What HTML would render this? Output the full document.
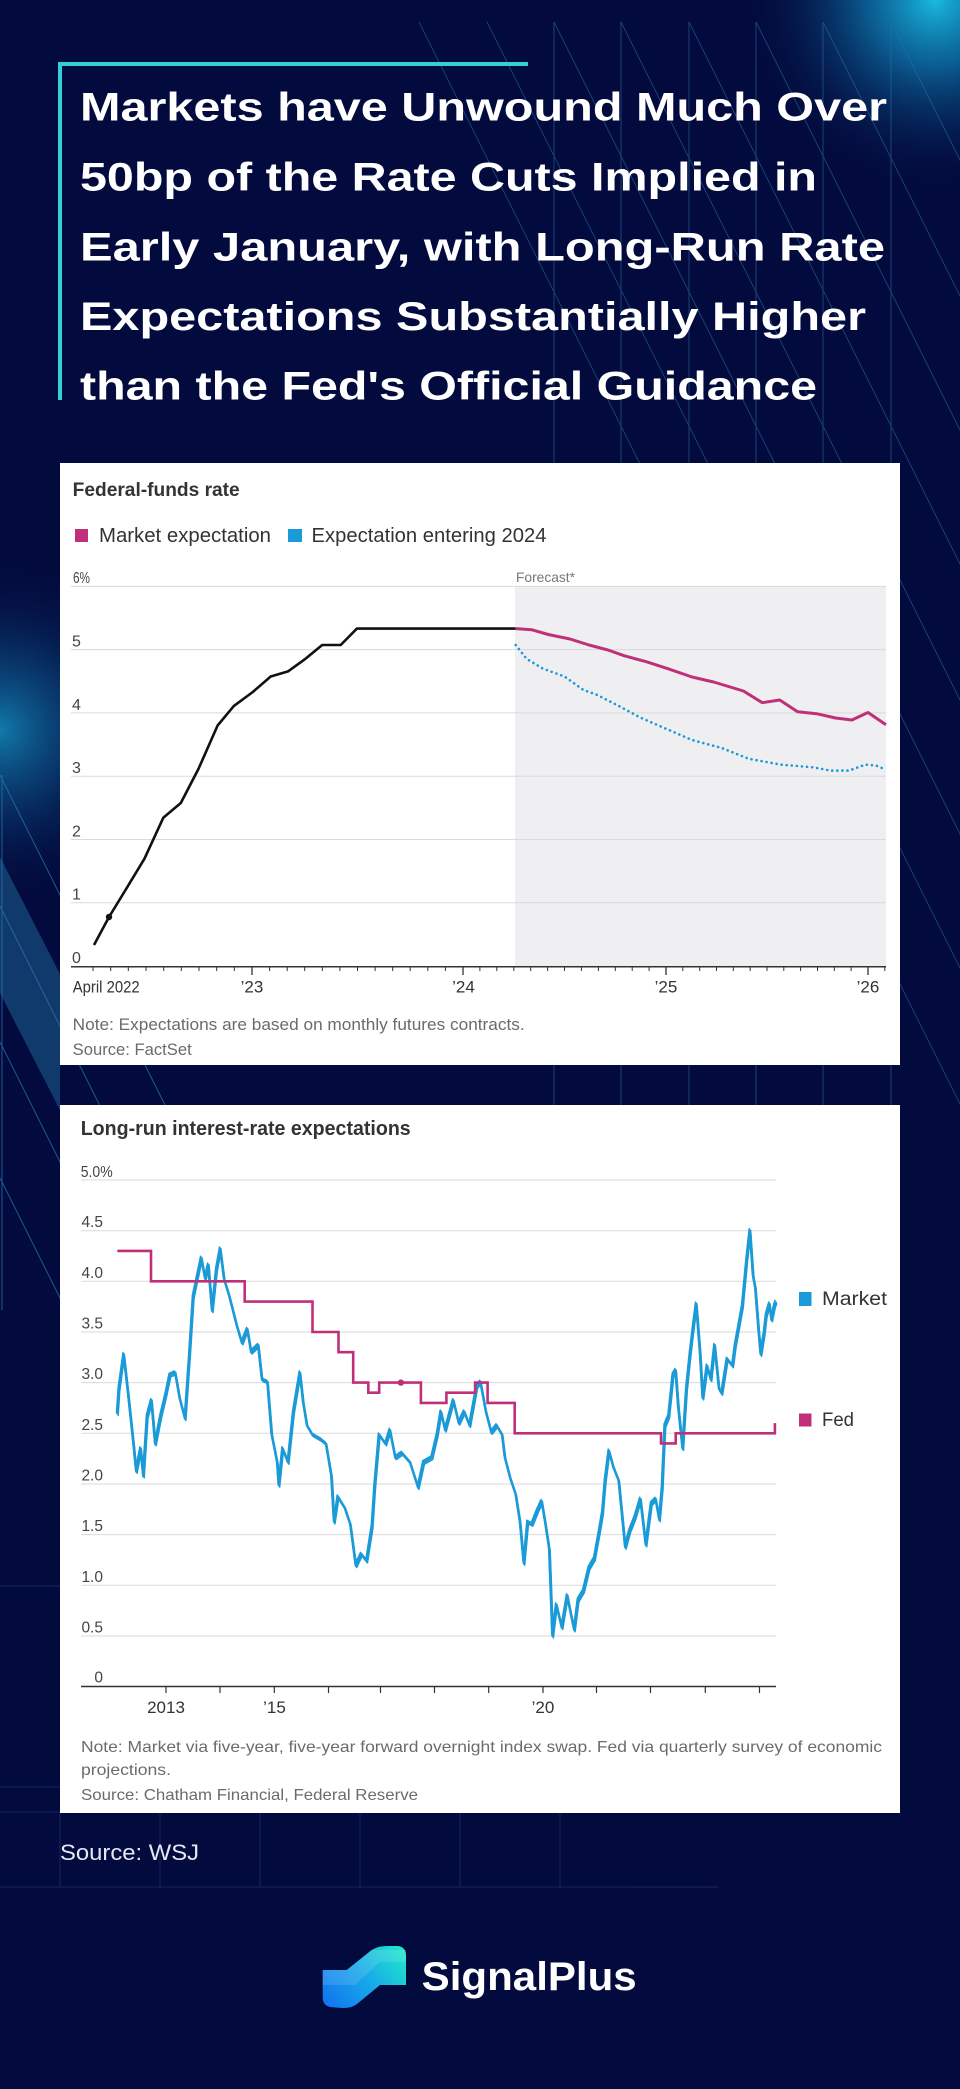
<!DOCTYPE html>
<html>
<head>
<meta charset="utf-8">
<style>
html,body{margin:0;padding:0;background:#030b3e;}
body{width:960px;height:2089px;overflow:hidden;}
svg{display:block;}
text{font-family:"Liberation Sans",Arial,sans-serif;}
</style>
</head>
<body>
<svg width="960" height="2089" viewBox="0 0 960 2089" xmlns="http://www.w3.org/2000/svg">
<defs>
<radialGradient id="gTR" cx="935" cy="0" r="190" gradientUnits="userSpaceOnUse">
<stop offset="0" stop-color="#19b9e0" stop-opacity="1"/>
<stop offset="0.35" stop-color="#0e7fb4" stop-opacity="0.7"/>
<stop offset="1" stop-color="#030b3e" stop-opacity="0"/>
</radialGradient>
<radialGradient id="gL" cx="0" cy="730" r="170" gradientUnits="userSpaceOnUse">
<stop offset="0" stop-color="#137fb0" stop-opacity="0.95"/>
<stop offset="0.45" stop-color="#0b4d82" stop-opacity="0.55"/>
<stop offset="1" stop-color="#030b3e" stop-opacity="0"/>
</radialGradient>
<linearGradient id="gLogo" x1="323" y1="2008" x2="406" y2="1946" gradientUnits="userSpaceOnUse">
<stop offset="0" stop-color="#1270f0"/>
<stop offset="0.5" stop-color="#17a8ea"/>
<stop offset="1" stop-color="#22ecc8"/>
</linearGradient>
<path id="mkt" d="M117.3 1414.1L119 1388.9L123.8 1354.4L128.2 1393.5L133.6 1444L136.3 1471.5L140.7 1448.6L143.4 1476.1L147.2 1416.4L151.5 1400.4L155.3 1444L160.7 1416.4L166.1 1393.5L169.9 1375.1L175.3 1372.8L179.7 1398.1L185.1 1418.7L189.4 1356.7L193.2 1297L197 1278.7L201.4 1258L205.2 1278.7L208.4 1264.9L212.2 1310.8L216.5 1269.5L220.3 1248.8L224.1 1278.7L229.6 1297L236.6 1324.6L242 1343L247.4 1329.2L251.2 1352.2L258.3 1345.3L262.1 1379.7L267.5 1382L271.8 1434.8L277.3 1462.4L278.9 1485.3L282.7 1448.6L288.1 1462.4L293.5 1411.8L300 1372.8L303.3 1402.7L307.1 1425.6L312.5 1434.8L320.6 1439.4L326.1 1444L331.5 1476.1L334.2 1522.1L338 1496.8L345 1508.3L350.4 1524.4L355.9 1565.7L361.3 1554.2L366.7 1561.1L372.1 1526.6L374.8 1485.3L379.2 1434.8L385.7 1444L390 1430.2L395.4 1457.8L402 1453.2L410.1 1462.4L418.2 1487.6L423.6 1462.4L431.8 1457.8L437.2 1434.8L441 1411.8L445.3 1430.2L453.4 1400.4L458.9 1423.3L464.3 1411.8L469.7 1425.6L476.8 1386.6L480.5 1382L486 1411.8L491.4 1432.5L496.8 1425.6L502.2 1434.8L505 1457.8L510.4 1478.4L515.8 1494.5L520.1 1522.1L523.9 1563.4L527.7 1522.1L532 1524.4L537.5 1510.6L541.8 1501.4L545.6 1524.4L549.4 1549.6L552.6 1636L556.4 1604.7L561.9 1627.7L567.3 1595.5L570 1609.3L574.3 1630L578.1 1600.1L583.5 1591L589 1568L594.4 1558.8L599.8 1528.9L602.5 1512.9L605.2 1480.7L609 1450.9L613.4 1467L618.8 1480.7L621.5 1508.3L625.3 1547.3L629.6 1531.2L635 1517.5L640.5 1499.1L645.9 1545L651.3 1503.7L655.7 1499.1L659.4 1519.8L662.2 1487.6L664.9 1425.6L668.7 1416.4L673 1375.1L675.7 1370.5L678.4 1407.3L682.7 1448.6L686.5 1388.9L690.3 1352.2L693.6 1324.6L696.3 1303.9L700.1 1352.2L702.8 1398.1L707.1 1365.9L710.9 1379.7L714.7 1345.3L719.1 1388.9L721.8 1393.5L727.2 1359L732.6 1365.9L735.3 1345.3L739.1 1324.6L742.4 1306.2L746.7 1260.3L750 1230.5L753.2 1276.4L755.4 1287.9L758.6 1329.2L760.8 1354.4L764.1 1333.8L766.2 1315.4L769.5 1303.9L771.6 1320L774.4 1306.2L776 1301.6"/>
</defs>

<rect x="0" y="0" width="960" height="2089" fill="#030b3e"/>
<rect x="0" y="0" width="960" height="300" fill="url(#gTR)"/>
<rect x="0" y="540" width="260" height="400" fill="url(#gL)"/>

<g stroke="#2a6fa3" stroke-width="1" opacity="0.55" fill="none">
<path d="M554 22V1105M621 22V1105M689 22V1105M756 22V1105M823 22V1105M891 22V1105"/>
<path d="M554 22L1100 1114M621 22L1100 980M689 22L1100 844M756 22L1100 710M823 22L1100 576M891 22L1100 440"/>
<path d="M487 22L1100 1248M419 22L1100 1384"/>
</g>

<polygon points="0,857 60,974 60,1110 0,993" fill="#1b5a8c" opacity="0.6"/>
<g stroke="#2a7ab0" stroke-width="1" opacity="0.7" fill="none">
<path d="M2 775V1310"/>
<path d="M0 775L200 1175M0 906L200 1306M0 1042L200 1442M0 1178L200 1578"/>
</g>
<g stroke="#1b2a68" stroke-width="1" fill="none" opacity="0.9">
<path d="M0 1586H60M0 1787H60M0 1812H60M0 1887H719"/>
<path d="M160 1813V1887M260 1813V1887M360 1813V1887M460 1813V1887M560 1813V1887M60 1813V1887"/>
</g>

<rect x="58" y="62" width="470" height="4" fill="#33cfd6"/>
<rect x="58" y="62" width="4" height="338" fill="#33cfd6"/>

<g fill="#ffffff" font-weight="bold" font-size="40">
<text x="80" y="120.7" textLength="807" lengthAdjust="spacingAndGlyphs">Markets have Unwound Much Over</text>
<text x="80" y="190.7" textLength="737" lengthAdjust="spacingAndGlyphs">50bp of the Rate Cuts Implied in</text>
<text x="80" y="260.3" textLength="805" lengthAdjust="spacingAndGlyphs">Early January, with Long-Run Rate</text>
<text x="80" y="330" textLength="786" lengthAdjust="spacingAndGlyphs">Expectations Substantially Higher</text>
<text x="80" y="399.3" textLength="737" lengthAdjust="spacingAndGlyphs">than the Fed's Official Guidance</text>
</g>

<!-- PANEL 1 -->
<rect x="60" y="463" width="840" height="602" fill="#ffffff"/>
<text x="72.7" y="496" font-size="19" font-weight="bold" fill="#333" textLength="167" lengthAdjust="spacingAndGlyphs">Federal-funds rate</text>
<rect x="75" y="529" width="13" height="13" fill="#c0307a"/>
<text x="99" y="542" font-size="20" fill="#333" textLength="172" lengthAdjust="spacingAndGlyphs">Market expectation</text>
<rect x="288" y="529" width="14" height="13" fill="#1a9ad6"/>
<text x="311.5" y="542" font-size="20" fill="#333" textLength="235" lengthAdjust="spacingAndGlyphs">Expectation entering 2024</text>

<rect x="515" y="586" width="371" height="380" fill="#efeff1"/>
<text x="516" y="582" font-size="14" fill="#777" textLength="59" lengthAdjust="spacingAndGlyphs">Forecast*</text>

<g stroke="#dadada" stroke-width="1">
<path d="M71 586.4H886M71 649.6H886M71 712.9H886M71 776.2H886M71 839.5H886M71 902.7H886"/>
</g>
<g font-size="16" fill="#444">
<text x="73" y="583" textLength="17" lengthAdjust="spacingAndGlyphs">6%</text>
<text x="72" y="646.6">5</text>
<text x="72" y="709.9">4</text>
<text x="72" y="773.2">3</text>
<text x="72" y="836.5">2</text>
<text x="72" y="899.7">1</text>
<text x="72" y="963">0</text>
</g>

<path d="M71 966.7H886" stroke="#333" stroke-width="1.5"/>
<path stroke="#333" stroke-width="1" d="M93 967v4M110.7 967v4M128.3 967v4M146 967v4M163.7 967v4M181.3 967v4M199 967v4M216.7 967v4M234.3 967v4M269.6 967v4M287.2 967v4M304.7 967v4M322.3 967v4M339.9 967v4M357.5 967v4M375.1 967v4M392.7 967v4M410.2 967v4M427.8 967v4M445.4 967v4M479.9 967v4M496.8 967v4M513.8 967v4M530.7 967v4M547.6 967v4M564.5 967v4M581.4 967v4M598.4 967v4M615.3 967v4M632.2 967v4M649.1 967v4M682.8 967v4M699.7 967v4M716.5 967v4M733.3 967v4M750.2 967v4M767 967v4M783.8 967v4M800.6 967v4M817.5 967v4M834.3 967v4M851.1 967v4M884.8 967v4"/>
<path stroke="#333" stroke-width="1.3" d="M252 967v8M463 967v8M666 967v8M868 967v8"/>

<path fill="none" stroke="#111" stroke-width="2.6" stroke-linejoin="round" d="M94 945L109 917L125.5 890L144.4 858.8L163.4 817.6L180.8 803L198.6 768.6L217.6 725.5L233.9 705.9L252.8 692L270.7 676.5L288 671.4L304.4 659.6L322.2 645L340.7 645L356.9 628.6L515.7 628.6"/>
<circle cx="109" cy="917" r="3.2" fill="#111"/>
<path fill="none" stroke="#c0307a" stroke-width="3" stroke-linejoin="round" d="M515.7 628.6L532 629.8L548.3 634.5L570 639L589 645L608 650L624 655.7L645.8 661.6L667.5 668.6L692 677L713.6 682L743.4 691L762.3 702.7L779.7 700L797.6 711.8L816.6 713.7L835.6 718L851.9 720L868 712.5L886 724.7"/>
<path fill="none" stroke="#1a9ad6" stroke-width="2.6" stroke-linecap="round" stroke-dasharray="0.1 5" d="M515.7 645L526.5 658.8L542.8 668.6L564.5 676.5L583.5 690L597 694.9L618.7 705.9L640.4 717.6L667.5 729.4L692 740L721.7 748L748.8 758.8L781.3 764.7L813.9 767.4L830 770.6L849 770.6L865.2 764.7L876 765.5L886 769.8"/>

<g font-size="17" fill="#333">
<text x="72.7" y="992.7" textLength="67" lengthAdjust="spacingAndGlyphs">April 2022</text>
<text x="252" y="992.7" text-anchor="middle">’23</text>
<text x="463.5" y="992.7" text-anchor="middle">’24</text>
<text x="666" y="992.7" text-anchor="middle">’25</text>
<text x="868" y="992.7" text-anchor="middle">’26</text>
</g>
<g font-size="16.5" fill="#6b6b6b">
<text x="72.7" y="1030" textLength="452" lengthAdjust="spacingAndGlyphs">Note: Expectations are based on monthly futures contracts.</text>
<text x="72.7" y="1055" textLength="119" lengthAdjust="spacingAndGlyphs">Source: FactSet</text>
</g>

<!-- PANEL 2 -->
<rect x="60" y="1105" width="840" height="708" fill="#ffffff"/>
<text x="80.7" y="1135" font-size="20" font-weight="bold" fill="#333" textLength="330" lengthAdjust="spacingAndGlyphs">Long-run interest-rate expectations</text>

<g stroke="#dadada" stroke-width="1">
<path d="M81 1180H776M81 1230.7H776M81 1281.3H776M81 1332H776M81 1382.6H776M81 1433.3H776M81 1484H776M81 1534.6H776M81 1585.3H776M81 1636H776"/>
</g>
<g font-size="15.5" fill="#444">
<text x="80.7" y="1177" textLength="32" lengthAdjust="spacingAndGlyphs">5.0%</text>
<g text-anchor="end">
<text x="103" y="1227">4.5</text>
<text x="103" y="1277.8">4.0</text>
<text x="103" y="1328.5">3.5</text>
<text x="103" y="1379.1">3.0</text>
<text x="103" y="1429.8">2.5</text>
<text x="103" y="1480.5">2.0</text>
<text x="103" y="1531.1">1.5</text>
<text x="103" y="1581.8">1.0</text>
<text x="103" y="1632.5">0.5</text>
<text x="103" y="1682.5">0</text>
</g>
</g>

<path d="M81 1686.5H776" stroke="#333" stroke-width="1.5"/>
<path stroke="#333" stroke-width="1.2" d="M166 1687v6M220 1687v6M274.3 1687v6M328.5 1687v6M380.5 1687v6M434.5 1687v6M488.7 1687v6M543 1687v6M596.5 1687v6M650.5 1687v6M705.3 1687v6M759.5 1687v6"/>

<g font-size="17" fill="#333" text-anchor="middle">
<text x="166" y="1713">2013</text>
<text x="274.5" y="1713">’15</text>
<text x="543" y="1713">’20</text>
</g>

<use href="#mkt" fill="none" stroke="#1a9ad6" stroke-width="1.5" stroke-linejoin="round" transform="translate(0.8,1.8)"/>
<use href="#mkt" fill="none" stroke="#1a9ad6" stroke-width="1.5" stroke-linejoin="round" transform="translate(-0.8,-1.8)"/>
<use href="#mkt" fill="none" stroke="#1a9ad6" stroke-width="2.6" stroke-linejoin="round"/>

<path fill="none" stroke="#c0307a" stroke-width="2.6" d="M117.3 1250.9H151V1281.3H244.7V1301.6H312.5V1332H338.5V1352.2H353.2V1382.6H368.3V1392.7H379.2V1382.6H420.9V1402.9H446.4V1392.7H475.1V1382.6H487.6V1402.9H514.7V1433.3H661V1443.4H675.7V1433.3H774.9V1423.1"/>
<circle cx="400.9" cy="1382.6" r="3.2" fill="#c0307a"/>

<rect x="799" y="1292" width="12.5" height="14" fill="#1a9ad6"/>
<text x="822" y="1305" font-size="19" fill="#333" textLength="65" lengthAdjust="spacingAndGlyphs">Market</text>
<rect x="799" y="1413.5" width="12.5" height="13" fill="#c0307a"/>
<text x="822" y="1426" font-size="19" fill="#333" textLength="32" lengthAdjust="spacingAndGlyphs">Fed</text>

<g font-size="16" fill="#6b6b6b">
<text x="81" y="1752" textLength="801" lengthAdjust="spacingAndGlyphs">Note: Market via five-year, five-year forward overnight index swap. Fed via quarterly survey of economic</text>
<text x="81" y="1775" textLength="90" lengthAdjust="spacingAndGlyphs">projections.</text>
<text x="81" y="1800" textLength="337" lengthAdjust="spacingAndGlyphs">Source: Chatham Financial, Federal Reserve</text>
</g>

<text x="60" y="1860" font-size="22" fill="#e6e8f2" textLength="139" lengthAdjust="spacingAndGlyphs">Source: WSJ</text>

<path fill="url(#gLogo)" d="M322.7 1970L346.7 1970L371.7 1950Q378 1946 388 1946L398 1946Q406 1947 406 1956L406 1985L380 1985L357 2004Q351 2008.5 342 2008L330 2007Q322.7 2005 322.7 1998Z"/>
<path fill="#ffffff" opacity="0.12" d="M322.7 1970L346.7 1970L371.7 1950L406 1950L406 1962L380 1962L355 1985L322.7 1985Z"/>
<text x="421.7" y="1990" font-size="39.5" font-weight="bold" fill="#ffffff" textLength="215" lengthAdjust="spacingAndGlyphs">SignalPlus</text>
</svg>
</body>
</html>
